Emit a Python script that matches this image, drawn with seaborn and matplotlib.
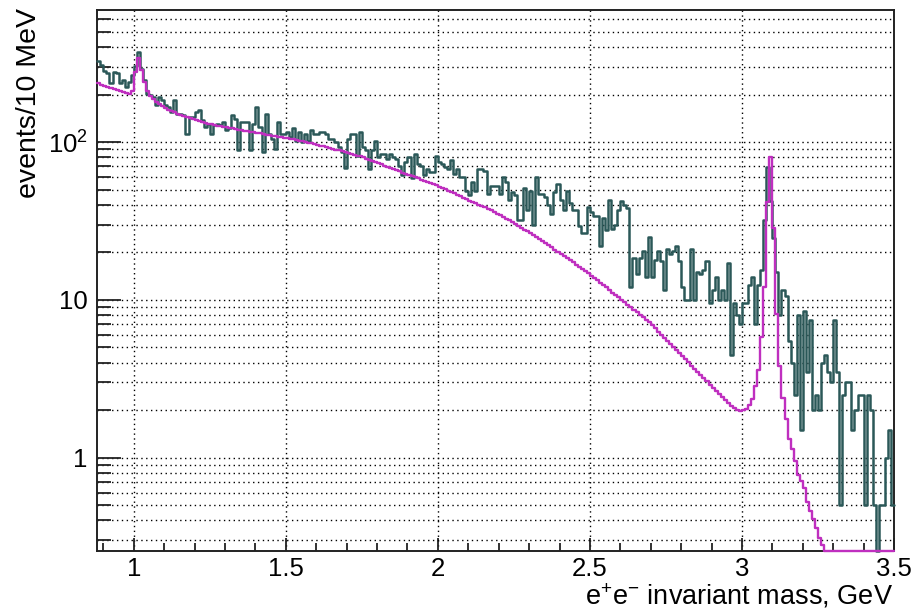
import numpy as np
import pandas as pd
import matplotlib
matplotlib.use("Agg")
import matplotlib.pyplot as plt
import seaborn as sns
from matplotlib.ticker import FixedLocator, FixedFormatter, MultipleLocator, FuncFormatter

# 10 MeV bins between 0.88 and 3.50 GeV
mass_min, mass_max = 0.88, 3.50
n_bins = 262

# observed events per bin
events = [
    326, 306, 280, 272, 235, 278, 272, 235, 246, 224,
    240, 265, 302, 370, 290, 246, 203, 198, 193, 172,
    193, 184, 172, 167, 155, 184, 151, 151, 148, 113,
    144, 144, 155, 159, 137, 125, 131, 113, 128, 131,
    128, 134, 120, 122, 148, 140, 89, 134, 134, 134,
    89, 131, 167, 125, 87, 151, 113, 104, 91, 134,
    113, 113, 116, 108, 122, 102, 116, 100, 113, 102,
    119, 113, 113, 116, 116, 113, 104, 104, 100, 93,
    87, 68, 104, 113, 113, 82, 116, 93, 89, 67,
    89, 102, 80, 84, 84, 78, 84, 80, 78, 71,
    62, 75, 80, 59, 84, 73, 71, 62, 67, 65,
    65, 82, 75, 73, 69, 67, 77, 63, 67, 60,
    60, 49, 46, 56, 49, 67, 67, 66, 47, 53,
    53, 53, 47, 60, 56, 43, 48, 46, 32, 32,
    51, 37, 49, 30, 60, 47, 47, 45, 40, 35,
    48, 54, 43, 37, 49, 41, 37, 37, 29.5, 26.5,
    26.5, 39, 36, 34, 34, 22, 33, 27.5, 43, 28,
    30, 37, 42, 40, 38, 12, 18.5, 14.5, 18.5, 20.5,
    14, 25, 14, 18, 20.5, 17.5, 11.5, 21, 19.5, 20.5,
    22, 17.5, 12, 10, 10, 21, 10, 15, 14.5, 15.5,
    17.5, 9.5, 11.5, 14, 10, 11.5, 10, 17, 4.5, 9.5,
    8, 7, 9.5, 9.5, 12.5, 14, 7, 12.5, 15.5, 32,
    69, 42, 24.5, 15, 8, 11.5, 10.5, 5.5, 4, 2.5,
    8, 1.5, 8.5, 3.5, 7.5, 2, 2.5, 2, 4, 4.5,
    3.5, 3, 7.5, 3.5, 0.5, 2.5, 3, 3, 1.5, 2,
    2.5, 2.5, 0.5, 2.5, 2, 0.5, 0, 0.5, 0.5, 1, 1.5, 0.5,
]

# expected events per bin from the simulation
model = [
    235, 231, 227, 223, 219, 216, 213, 210, 207, 205,
    203, 210, 278, 342, 285, 240, 210, 196, 187, 180,
    174, 169, 164, 160, 157, 154, 151, 148, 146, 144,
    142, 140, 138, 136, 134, 133, 131, 130, 128, 127,
    126, 125, 124, 123, 122, 121, 120, 119, 118, 117,
    116, 115, 114.5, 113.5, 112.5, 111.5, 110.5, 110, 109, 108,
    107, 106.5, 106, 105, 104, 103, 102, 101, 100, 99,
    98, 97, 96, 95, 94, 93, 91.8, 90.7, 89.6, 88.5,
    87.4, 86.3, 85.2, 84.1, 83.1, 82, 81, 80, 78.6, 77.3,
    76, 74.7, 73.4, 72.2, 71, 69.8, 68.6, 67.4, 66.3, 65.2,
    64.1, 63, 61.9, 60.9, 59.8, 58.8, 57.8, 56.8, 55.9, 54.9,
    54, 53.1, 52.2, 51.1, 50.1, 49.1, 48.1, 47.2, 46.2, 45.3,
    44.4, 43.5, 42.6, 41.8, 40.9, 40.1, 39.3, 38.5, 37.8, 37.0,
    36.1, 35.2, 34.4, 33.6, 32.7, 31.9, 31.1, 30.3, 29.5, 28.7,
    27.9, 27.2, 26.4, 25.7, 24.9, 24.2, 23.5, 22.8, 22.1, 21.5,
    20.8, 20.2, 19.6, 19.0, 18.4, 17.8, 17.3, 16.7, 16.2, 15.7,
    15.2, 14.7, 14.2, 13.7, 13.3, 12.8, 12.4, 12.0, 11.5, 11.1,
    10.8, 10.4, 10.0, 9.68, 9.33, 8.99, 8.67, 8.34, 8.04, 7.74,
    7.46, 7.19, 6.88, 6.58, 6.29, 6.01, 5.75, 5.50, 5.26, 5.03,
    4.81, 4.60, 4.40, 4.20, 4.01, 3.83, 3.66, 3.49, 3.33, 3.18,
    3.04, 2.90, 2.77, 2.65, 2.53, 2.42, 2.31, 2.21, 2.12, 2.05,
    1.99, 1.98, 1.99, 2.03, 2.15, 2.35, 2.85, 3.6, 5.8, 12,
    41.6, 80, 28.6, 8.1, 3.8, 2.4, 1.75, 1.31, 1.13, 0.95,
    0.78, 0.71, 0.645, 0.52, 0.46, 0.41, 0.36, 0.31, 0.28, 0.24,
    0.21, 0.19, 0.17, 0.15, 0.14, 0.13, 0.12, 0.11, 0.10, 0.095,
    0.09, 0.085, 0.08, 0.076, 0.072, 0.068, 0.065, 0.062, 0.06, 0.058, 0.056, 0.054,
]

x_ticks = [1.0, 1.5, 2.0, 2.5, 3.0, 3.5]
y_ticks = [1, 10, 100]
y_tick_labels = ["1", "10", "$10^{2}$"]

y_min, y_max = 0.2557, 687.0
DATA_COLOR = "#2b5858"
MODEL_COLOR = "#bf2fbf"

sns.set_theme(style="white")
plt.rcParams["font.family"] = ["Liberation Sans", "DejaVu Sans"]
plt.rcParams["mathtext.fontset"] = "custom"
plt.rcParams["mathtext.rm"] = "Liberation Sans"
plt.rcParams["mathtext.it"] = "Liberation Sans"
plt.rcParams["mathtext.bf"] = "Liberation Sans"

bin_width = (mass_max - mass_min) / n_bins
centers = mass_min + bin_width * (np.arange(n_bins) + 0.5)
# bins below the visible range are drawn along the lower frame edge
df = pd.DataFrame({
    "mass": centers,
    "events": np.maximum(np.asarray(events, float), y_min),
    "model": np.maximum(np.asarray(model, float), y_min),
})

fig = plt.figure(figsize=(9.16, 6.14), dpi=100)
ax = fig.add_axes([97.3 / 916, 1 - 551 / 614, (894 - 97.3) / 916, (551 - 10) / 614])
ax.set_yscale("log")

sns.histplot(data=df, x="mass", weights="events", bins=n_bins, binrange=(mass_min, mass_max),
             element="step", fill=False, color=DATA_COLOR, linewidth=1.8, ax=ax,
             clip_on=False, zorder=3)
sns.histplot(data=df, x="mass", weights="model", bins=n_bins, binrange=(mass_min, mass_max),
             element="step", fill=False, color=MODEL_COLOR, linewidth=1.7, ax=ax,
             clip_on=False, zorder=4)

ax.set_xlim(mass_min, mass_max)
ax.set_ylim(y_min, y_max)

# grid: dotted lines on every y tick, on major x ticks only
dots = (0, (1, 2.5))
ax.set_axisbelow(True)
ax.xaxis.set_major_locator(FixedLocator(x_ticks))
ax.xaxis.set_minor_locator(MultipleLocator(0.1))
ax.xaxis.set_major_formatter(FuncFormatter(lambda v, p: f"{v:g}"))
minor_y = [m * 10.0 ** e for e in (-1, 0, 1, 2) for m in range(2, 10)]
ax.yaxis.set_major_locator(FixedLocator(y_ticks))
ax.yaxis.set_major_formatter(FixedFormatter(y_tick_labels))
ax.yaxis.set_minor_locator(FixedLocator([v for v in minor_y if y_min < v < y_max]))
ax.yaxis.set_minor_formatter(FuncFormatter(lambda v, p: ""))

ax.grid(True, which="major", axis="x", color="black", linestyle=dots, linewidth=1.0)
ax.grid(True, which="both", axis="y", color="black", linestyle=dots, linewidth=1.0)

ax.tick_params(axis="both", which="both", direction="in", bottom=True, left=True,
               top=False, right=False, color="#222222", width=1.3,
               labelsize=18.5, labelcolor="black")
ax.tick_params(axis="x", which="major", length=9.5, pad=4)
ax.tick_params(axis="x", which="minor", length=6)
ax.tick_params(axis="y", which="major", length=17.5, pad=7)
ax.tick_params(axis="y", which="minor", length=10)

for side in ("left", "bottom", "right", "top"):
    ax.spines[side].set_visible(True)
    ax.spines[side].set_color("#222222")
    ax.spines[side].set_linewidth(1.4)

ax.set_xlabel("")
ax.set_ylabel("")
fig.text(29 / 916, 1 - 8 / 614, "events/10 MeV", rotation=90, ha="center", va="top",
         fontsize=20.5, color="black")
fig.text(893 / 916, 1 - 605 / 614, "e$^{+}$e$^{-}$ invariant mass, GeV", ha="right",
         va="baseline", fontsize=19.5, color="black")

fig.savefig("out.png", dpi=100)
